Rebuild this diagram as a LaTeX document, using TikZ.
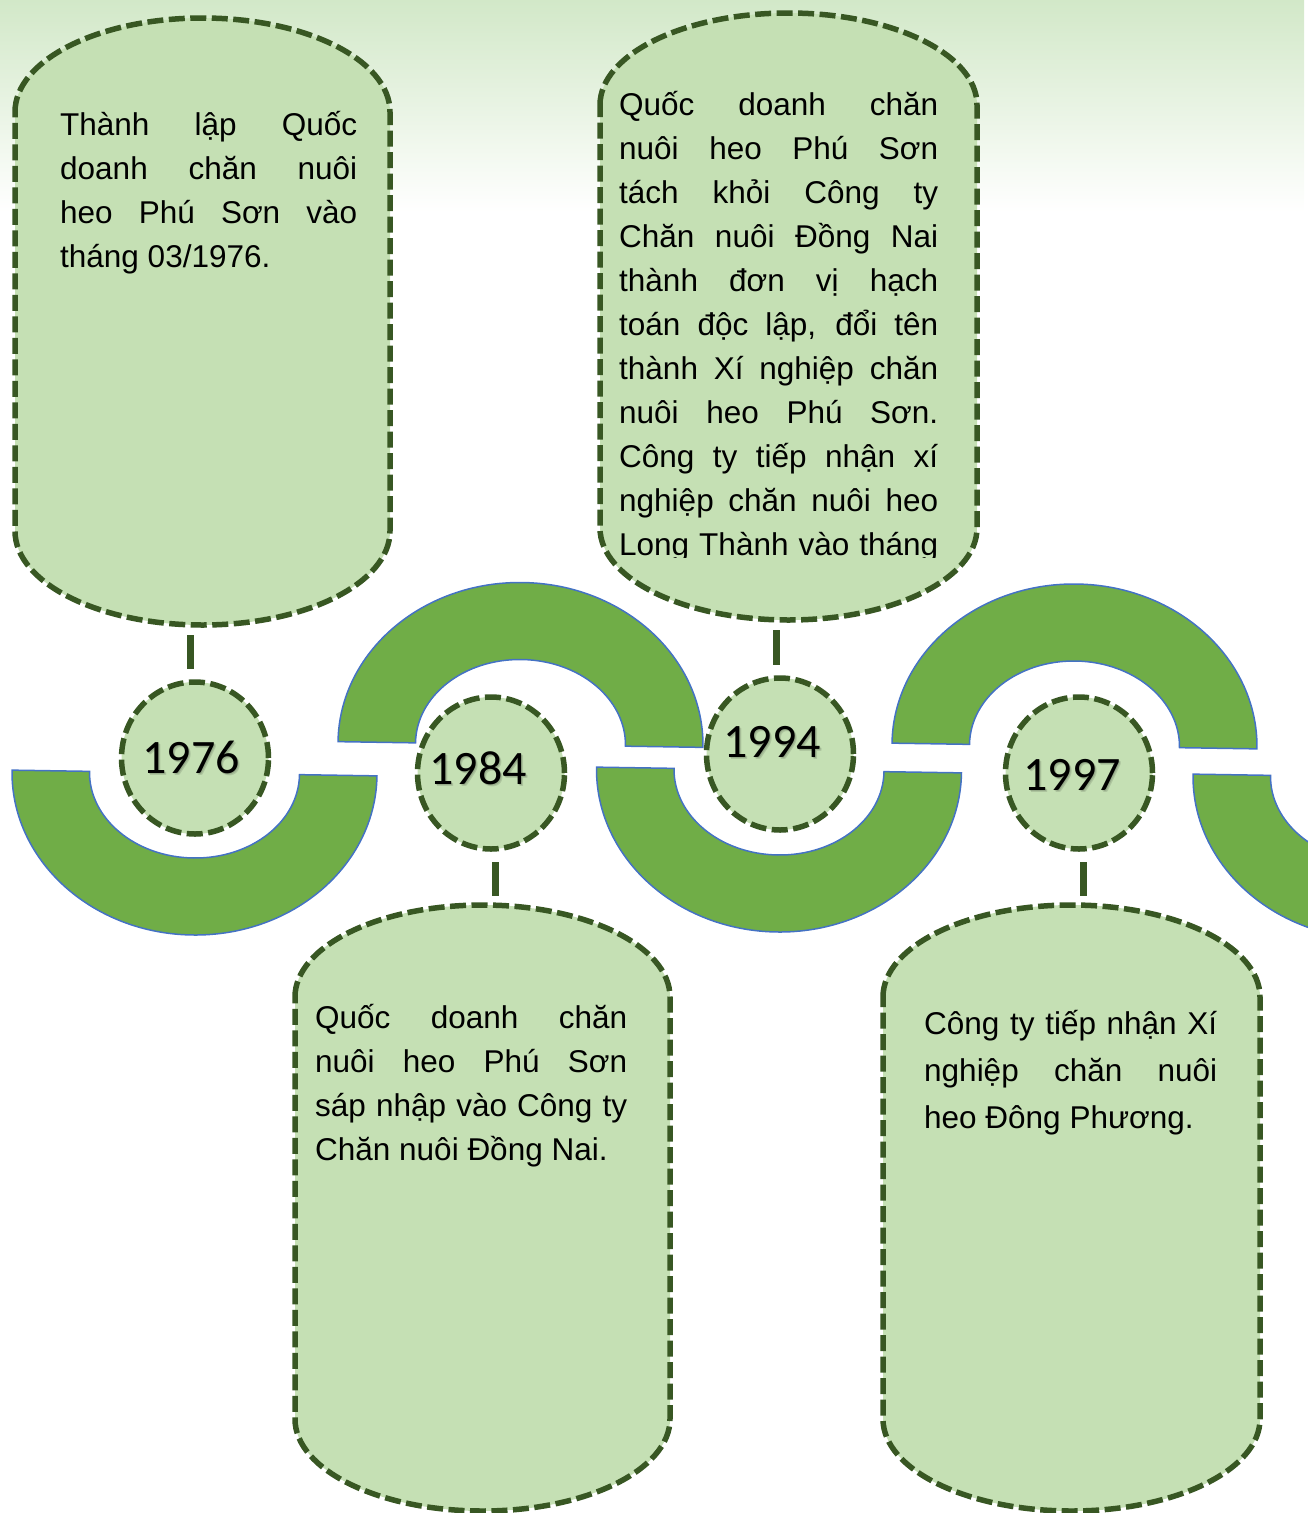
\documentclass[tikz,border=0pt]{standalone}
\usepackage{fontspec}
\newfontfamily\bodyf{Liberation Sans}
\newfontfamily\yearf{Carlito}
\usetikzlibrary{shapes.geometric}
\definecolor{boxfill}{HTML}{C5E0B4}
\definecolor{boxline}{HTML}{385723}
\definecolor{arcfill}{HTML}{70AD47}
\definecolor{arcline}{HTML}{4472C4}
\definecolor{bgtop}{RGB}{210,232,200}
\tikzset{
  boxstyle/.style={fill=boxfill, draw=boxline, line width=5.5pt, dash pattern=on 16pt off 5.5pt},
  arcstyle/.style={fill=arcfill, draw=arcline, line width=1.5pt},
  yearc/.style={ellipse, draw=boxline, fill=boxfill, line width=5.5pt, dash pattern=on 16pt off 5.5pt,
    minimum width=147pt, minimum height=152pt, inner sep=0pt},
  yearlbl/.style={anchor=base, inner sep=0pt, font=\yearf\fontsize{48}{50}\selectfont},
  yearshadow/.style={anchor=base, inner sep=0pt, font=\yearf\fontsize{48}{50}\selectfont, text=black, opacity=0.12},
  conn/.style={draw=boxline, line width=7pt},
  txt/.style={anchor=base west, inner sep=0pt, font=\bodyf\fontsize{31.5}{40}\selectfont}
}
\newcommand\capbox[5]{%
  \pgfmathsetmacro\cbM{(#1+#3)/2}%
  \pgfmathsetmacro\cbA{(#3-#1)/2*0.5523}%
  \pgfmathsetmacro\cbB{#5*0.5523}%
  \path[boxstyle] (#1,{#2+#5}) .. controls (#1,{#2+#5-\cbB}) and ({\cbM-\cbA},#2) .. (\cbM,#2)
    .. controls ({\cbM+\cbA},#2) and (#3,{#2+#5-\cbB}) .. (#3,{#2+#5})
    -- (#3,{#4-#5}) .. controls (#3,{#4-#5+\cbB}) and ({\cbM+\cbA},#4) .. (\cbM,#4)
    .. controls ({\cbM-\cbA},#4) and (#1,{#4-#5+\cbB}) .. (#1,{#4-#5}) -- cycle;}
\newcommand\blockarc[4]{%
  \begin{scope}[rotate around={#4:(#1,#2)}]
  \path[arcstyle] ({#1-182.5},#2) .. controls ({#1-182.5},{#2+#3*89.5}) and ({#1-100.8},{#2+#3*162}) .. (#1,{#2+#3*162})
    .. controls ({#1+100.8},{#2+#3*162}) and ({#1+182.5},{#2+#3*89.5}) .. ({#1+182.5},#2)
    -- ({#1+105},#2) .. controls ({#1+105},{#2+#3*47}) and ({#1+58},{#2+#3*85}) .. (#1,{#2+#3*85})
    .. controls ({#1-58},{#2+#3*85}) and ({#1-105},{#2+#3*47}) .. ({#1-105},#2) -- cycle;
  \end{scope}}
\newcommand\yearlabel[4]{% name, x, y(base), text
  \node[yearshadow] (#1s1) at ({#2+1},{#3+1.5}) {#4};
  \node[yearshadow] (#1s2) at ({#2+2},{#3+2.5}) {#4};
  \node[yearlbl] (#1) at (#2,#3) {#4};}
\begin{document}
\begin{tikzpicture}[x=1pt,y=-1pt]
\useasboundingbox (0,0) rectangle (1307,1513);
% background gradient
\shade[top color=bgtop, bottom color=white] (0,0) rectangle (1304,212);
% green block arcs
\blockarc{194.5}{773}{1}{-0.9}
\blockarc{520.5}{744.5}{-1}{-0.9}
\blockarc{779}{770}{1}{-0.9}
\blockarc{1074.5}{746}{-1}{-0.9}
\blockarc{1375.5}{777}{1}{-0.9}
% text boxes
\capbox{15}{18}{390}{625}{94}
\capbox{600}{13}{977}{620}{92}
\capbox{295}{905}{670}{1511}{92}
\capbox{883}{905}{1260}{1511}{92}
% connectors
\coordinate (b1bot) at (190,635); \coordinate (y1top) at (190,669);
\coordinate (b3bot) at (776,630); \coordinate (y3top) at (776,665);
\coordinate (y2bot) at (495,862); \coordinate (b2top) at (495,896);
\coordinate (y4bot) at (1083,862); \coordinate (b4top) at (1083,896);
\draw[conn] (b1bot) -- (y1top);
\draw[conn] (b3bot) -- (y3top);
\draw[conn] (y2bot) -- (b2top);
\draw[conn] (y4bot) -- (b4top);
% year circles
\node[yearc] (c1976) at (195,758) {};
\node[yearc] (c1984) at (491,773) {};
\node[yearc] (c1994) at (780,754) {};
\node[yearc] (c1997) at (1079,773) {};
\yearlabel{l1976}{191}{773}{1976}
\yearlabel{l1984}{478}{784}{1984}
\yearlabel{l1994}{772}{757}{1994}
\yearlabel{l1997}{1072}{790}{1997}
% box 1 text
\node[txt] (t1a) at (60,135) {\makebox[297pt][s]{Thành lập Quốc}};
\node[txt] (t1b) at (60,179) {\makebox[297pt][s]{doanh chăn nuôi}};
\node[txt] (t1c) at (60,223) {\makebox[297pt][s]{heo Phú Sơn vào}};
\node[txt] (t1d) at (60,267) {tháng 03/1976.};
% box 2 text
\node[txt] (t2a) at (315,1028) {\makebox[312pt][s]{Quốc doanh chăn}};
\node[txt] (t2b) at (315,1072) {\makebox[312pt][s]{nuôi heo Phú Sơn}};
\node[txt] (t2c) at (315,1116) {\makebox[312pt][s]{sáp nhập vào Công ty}};
\node[txt] (t2d) at (315,1160) {Chăn nuôi Đồng Nai.};
% box 3 text (clipped)
\begin{scope}
\clip (600,0) rectangle (977,557);
\node[txt] (t3a) at (619,115) {\makebox[319pt][s]{Quốc doanh chăn}};
\node[txt] (t3b) at (619,159) {\makebox[319pt][s]{nuôi heo Phú Sơn}};
\node[txt] (t3c) at (619,203) {\makebox[319pt][s]{tách khỏi Công ty}};
\node[txt] (t3d) at (619,247) {\makebox[319pt][s]{Chăn nuôi Đồng Nai}};
\node[txt] (t3e) at (619,291) {\makebox[319pt][s]{thành đơn vị hạch}};
\node[txt] (t3f) at (619,335) {\makebox[319pt][s]{toán độc lập, đổi tên}};
\node[txt] (t3g) at (619,379) {\makebox[319pt][s]{thành Xí nghiệp chăn}};
\node[txt] (t3h) at (619,423) {\makebox[319pt][s]{nuôi heo Phú Sơn.}};
\node[txt] (t3i) at (619,467) {\makebox[319pt][s]{Công ty tiếp nhận xí}};
\node[txt] (t3j) at (619,511) {\makebox[319pt][s]{nghiệp chăn nuôi heo}};
\node[txt] (t3k) at (619,555) {\makebox[319pt][s]{Long Thành vào tháng}};
\end{scope}
% box 4 text
\node[txt] (t4a) at (924,1034) {\makebox[293pt][s]{Công ty tiếp nhận Xí}};
\node[txt] (t4b) at (924,1081) {\makebox[293pt][s]{nghiệp chăn nuôi}};
\node[txt] (t4c) at (924,1128) {heo Đông Phương.};
\end{tikzpicture}
\end{document}
